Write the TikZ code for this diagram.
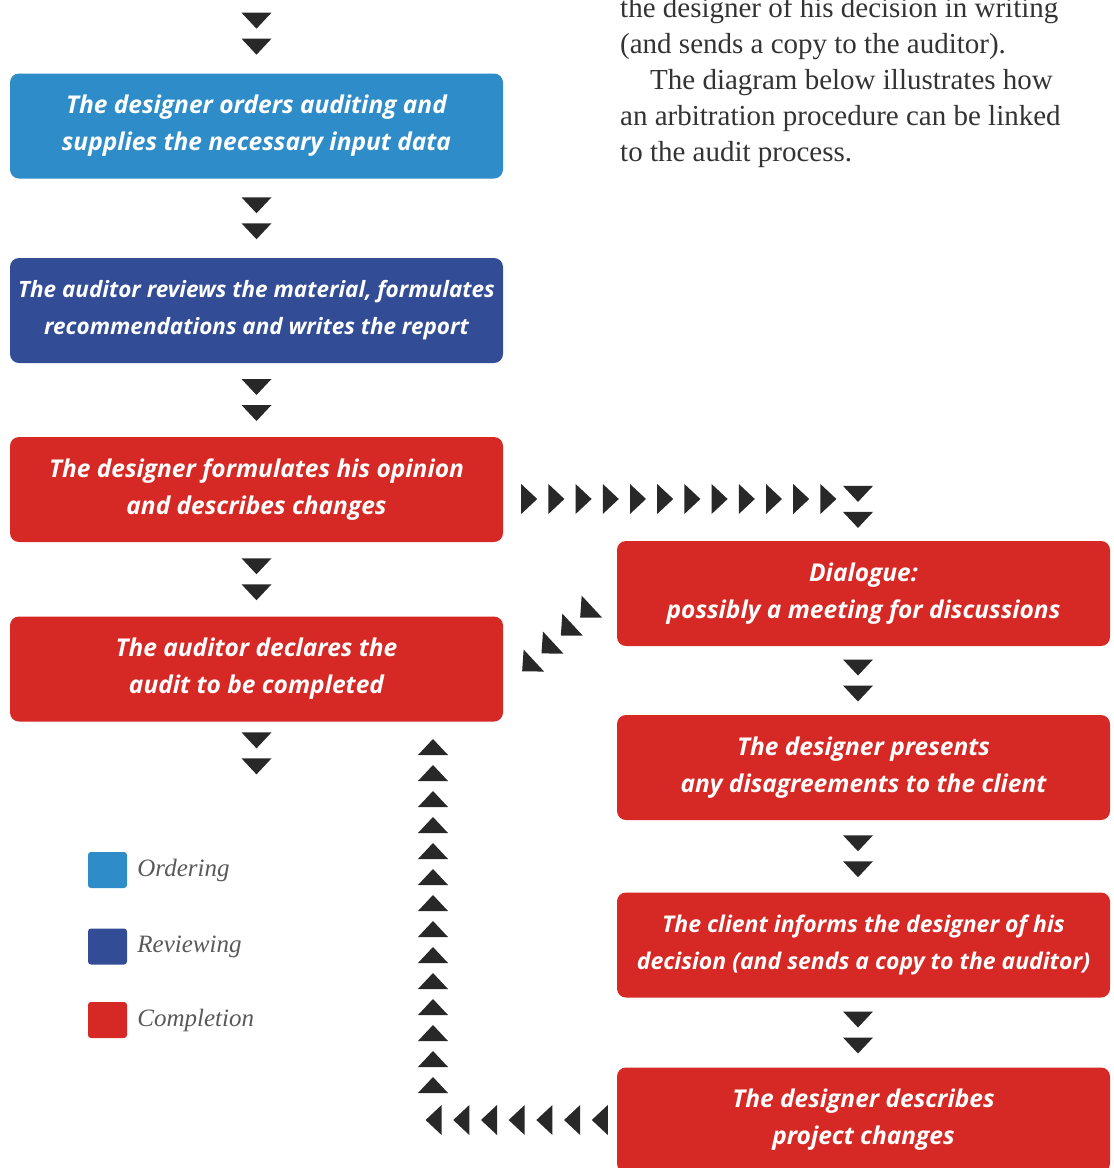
\documentclass[tikz,border=0pt]{standalone}
\usepackage{fontspec}
\setmainfont{Liberation Serif}
\newfontfamily\boxfont{Open Sans}
\usetikzlibrary{positioning,decorations.markings}

\definecolor{ordering}{RGB}{46,140,200}
\definecolor{reviewing}{RGB}{50,76,150}
\definecolor{completion}{RGB}{214,40,36}
\definecolor{tricol}{RGB}{40,40,40}

\newcommand{\tri}[1]{\fill[tricol,xshift=#1] (8,0) -- (-8,15) -- (-8,-15) -- cycle;}

\begin{document}
\begin{tikzpicture}[x=1pt,y=-1pt,
    stage/.style={rounded corners=9pt,minimum width=493pt,minimum height=105pt,inner sep=0pt,
      text=white,align=center,font=\boxfont\bfseries\itshape\fontsize{24.5}{37}\selectfont},
    pair/.style={decoration={markings,mark=at position 0.5 with {\tri{-13pt}\tri{13pt}}},decorate},
    trail/.style n args={3}{decoration={markings,mark=between positions #1 and #2 step #3 with {\tri{0pt}}},decorate},
    key/.style={rounded corners=3pt,minimum width=39pt,minimum height=36pt,inner sep=0pt},
    keytext/.style={font=\itshape\fontsize{25}{30}\selectfont,text=black!65,inner sep=0pt}]
    \useasboundingbox (0,0) rectangle (1114,1168);

    \node (note) at (620,-3) [anchor=north west,align=left,inner sep=0pt,
      font=\fontsize{29}{36}\selectfont,text=black!80]
      {the designer of his decision in writing\\(and sends a copy to the auditor).\\
       \hspace*{30pt}The diagram below illustrates how\\an arbitration procedure can be linked\\
       to the audit process.};

    \node (order) at (256.5,126) [stage,fill=ordering] {The designer orders auditing and\\supplies the necessary input data};
    \node (review) at (256.5,310.5) [stage,fill=reviewing,font=\boxfont\bfseries\itshape\fontsize{22.5}{37}\selectfont] {The auditor reviews the material, formulates\\recommendations and writes the report};
    \node (opinion) at (256.5,489.5) [stage,fill=completion] {The designer formulates his opinion\\and describes changes};
    \node (declare) at (256.5,669) [stage,fill=completion] {The auditor declares the\\audit to be completed};

    \node (dialogue) at (863.5,593.5) [stage,fill=completion] {Dialogue:\\possibly a meeting for discussions};
    \node (present) at (863.5,767.5) [stage,fill=completion] {The designer presents\\any disagreements to the client};
    \node (inform) at (863.5,945) [stage,fill=completion,font=\boxfont\bfseries\itshape\fontsize{23}{37}\selectfont] {The client informs the designer of his\\decision (and sends a copy to the auditor)};
    \node (describe) at (863.5,1120) [stage,fill=completion] {The designer describes\\project changes};

    \coordinate (entry) at (256.5,-6);
    \coordinate (exit) at (256.5,785);
    \coordinate (elbow) at (858,499);
    \coordinate (drop) at (858,473);
    \coordinate (corner) at (433,1120);

    % main line
    \path[pair] (entry) -- (order);
    \path[pair] (order) -- (review);
    \path[pair] (review) -- (opinion);
    \path[pair] (opinion) -- (declare);
    \path[pair] (declare) -- (exit);

    % arbitration branch
    \path[trail={26pt}{326pt}{27.2pt}] (opinion.east |- elbow) -- (elbow);
    \path[pair] (drop) -- (drop |- dialogue.north);
    \path[pair] ([xshift=-5.5pt]dialogue.south) -- ([xshift=-5.5pt]present.north);
    \path[pair] ([xshift=-5.5pt]present.south) -- ([xshift=-5.5pt]inform.north);
    \path[pair] ([xshift=-5.5pt]inform.south) -- ([xshift=-5.5pt]describe.north);
    \path[trail={42pt}{125pt}{26.4pt}] ([yshift=10pt]dialogue.west) -- ([yshift=-20pt]declare.east);
    \path[trail={17pt}{185pt}{27.7pt}] (describe.west) -- (corner);
    \path[trail={35pt}{375pt}{26pt}] (corner) -- (corner |- declare.south);

    % legend
    \node (keyorder) at (107.5,870) [key,fill=ordering] {};
    \node (keyreview) at (107.5,946.5) [key,fill=reviewing] {};
    \node (keydone) at (107.5,1020) [key,fill=completion] {};
    \node (keyordertext) [keytext,right=10pt of keyorder] {Ordering};
    \node (keyreviewtext) [keytext,right=10pt of keyreview] {Reviewing};
    \node (keydonetext) [keytext,right=10pt of keydone] {Completion};
\end{tikzpicture}
\end{document}
